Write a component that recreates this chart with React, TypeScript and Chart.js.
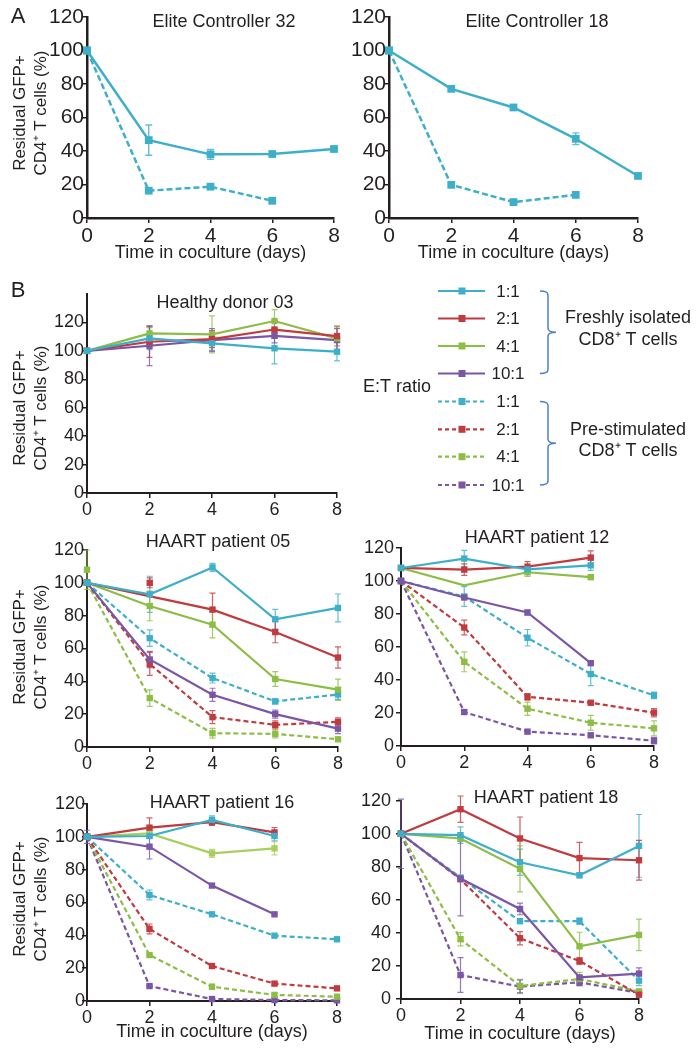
import React, { useEffect, useRef } from "react";
import { Chart, registerables } from "chart.js";

Chart.register(...registerables);

const FONT = "'Liberation Sans', Arial, Helvetica, sans-serif";
const INK = "#231f20";
const COLORS: Record<string, string> = {
  cyan: "#3dafc9",
  red: "#c03a3e",
  green: "#8cbd45",
  lime: "#a8cf5c",
  purple: "#7b55a6",
};
const BRACKET = "#4b82c3";

// ---------- shared categories / labels ----------
const days = [0, 2, 4, 6, 8];
const etRatios = ["1:1", "2:1", "4:1", "10:1"];
const yTitleLines = ["Residual GFP+", "CD4\u207A T cells (%)"];
const xTitleText = "Time in coculture (days)";

// ---------- Panel A: Elite Controller 32 ----------
const ec32Fresh11 = [100, 46.5, 38, 38.2, 41.2];
const ec32Fresh11Err = [0, 9, 3, 0, 0];
const ec32Stim11 = [100, 16.3, 18.7, 10.3, null];
const ec32Stim11Err = [0, 0, 0, 0, 0];

// ---------- Panel A: Elite Controller 18 ----------
const ec18Fresh11 = [100, 77.1, 66, 47.3, 25.1];
const ec18Fresh11Err = [0, 0, 0, 3.5, 0];
const ec18Stim11 = [100, 19.8, 9.5, 13.8, null];
const ec18Stim11Err = [0, 0, 0, 0, 0];

// ---------- Panel B: Healthy donor 03 ----------
const hd03Fresh11 = [100, 108.8, 105.3, 101.8, 99.4];
const hd03Fresh11Err = [0, 8, 5, 11, 6.5];
const hd03Fresh21 = [100, 106.4, 108.3, 115, 110.4];
const hd03Fresh21Err = [0, 11, 6, 6, 7];
const hd03Fresh41 = [100, 112.3, 111.6, 121, 108.8];
const hd03Fresh41Err = [0, 4, 13, 8, 8];
const hd03Fresh101 = [100, 103.6, 107.6, 110.6, 107.6];
const hd03Fresh101Err = [0, 14, 8, 5, 8];

// ---------- Panel B: HAART patient 05 ----------
const h05Fresh11 = [100, 93, 109.4, 77.8, 84.7];
const h05Fresh11Err = [0, 11, 2.5, 6, 8.5];
const h05Fresh21 = [100, null, 83.7, 70, 54.5];
const h05Fresh21Err = [0, 0, 10, 6.5, 6.5];
const h05Fresh21Extra = [null, 100, null, null, null];
const h05Fresh21ExtraErr = [0, 3, 0, 0, 0];
const h05Fresh41 = [100, 85.9, 74.5, 41.4, 34.9];
const h05Fresh41Err = [0, 9, 8, 4.5, 6.5];
const h05Fresh41Extra = [108, null, null, null, null];
const h05Fresh41ExtraErr = [12, 0, 0, 0, 0];
const h05Fresh101 = [100, 53.3, 31.8, 20, 11.2];
const h05Fresh101Err = [0, 5, 4, 2.5, 3];
const h05Stim11 = [100, 66.3, 42, 27.8, 32];
const h05Stim11Err = [0, 5, 3, 1.5, 3];
const h05Stim21 = [100, 50.6, 18.2, 13.5, 15.3];
const h05Stim21Err = [0, 7, 4, 2.5, 2.5];
const h05Stim41 = [100, 29.8, 8.4, 8, 4.7];
const h05Stim41Err = [0, 5, 3, 2.5, 1];

// ---------- Panel B: HAART patient 12 ----------
const h12Fresh11 = [107.9, 113.6, 107.1, 109.5, null];
const h12Fresh11Err = [0, 5, 1.5, 3, 0];
const h12Fresh21 = [107.9, 106.9, 108.7, 114.2, null];
const h12Fresh21Err = [0, 3.5, 3, 4, 0];
const h12Fresh41 = [107.9, 97.4, 105.3, 102.3, null];
const h12Fresh41Err = [0, 0, 2.5, 1, 0];
const h12Fresh101 = [100, 90, 80.9, 50.2, null];
const h12Fresh101Err = [0, 0, 1.5, 1, 0];
const h12Stim11 = [100, 90.6, 65.6, 43.6, 30.7];
const h12Stim11Err = [0, 6, 5, 7, 2];
const h12Stim21 = [100, 71.8, 29.8, 26.2, 20.2];
const h12Stim21Err = [0, 4.5, 2, 1, 2.5];
const h12Stim41 = [100, 51, 22.6, 14.1, 10.7];
const h12Stim41Err = [0, 6, 4, 4.5, 4.5];
const h12Stim101 = [100, 20.6, 8.7, 6.5, 3.2];
const h12Stim101Err = [0, 1, 1, 1, 2];

// ---------- Panel B: HAART patient 16 ----------
const h16Fresh11 = [100, 100.5, 110.3, 100.5, null];
const h16Fresh11Err = [0, 1.5, 2.5, 3, 0];
const h16Fresh21 = [100, 105.6, 109, 102.7, null];
const h16Fresh21Err = [0, 6, 2, 3, 0];
const h16Fresh41 = [100, 102.1, 89.9, 93, null];
const h16Fresh41Err = [0, 2, 2.5, 4, 0];
const h16Fresh101 = [100, 94, 70.3, 52.8, null];
const h16Fresh101Err = [4, 7.5, 0.5, 0.5, 0];
const h16Stim11 = [100, 64.6, 52.8, 39.8, 37.6];
const h16Stim11Err = [0, 3, 0.5, 0.5, 1];
const h16Stim21 = [100, 43.9, 21.3, 10.6, 7.7];
const h16Stim21Err = [0, 3, 0.5, 1, 0.5];
const h16Stim41 = [100, 28, 8.7, 3.7, 2.6];
const h16Stim41Err = [0, 0.5, 1.5, 1, 0.5];
const h16Stim101 = [100, 9.1, 1.2, 0.6, 0.4];
const h16Stim101Err = [0, 0.5, 0.5, 0.5, 0.5];

// ---------- Panel B: HAART patient 18 ----------
const h18Fresh11 = [100, 99.2, 82.8, 74.9, 92.7];
const h18Fresh11Err = [0, 5, 8, 1.5, 19];
const h18Fresh21 = [100, 114.9, 97.2, 85.3, 84];
const h18Fresh21Err = [0, 8, 13, 9.5, 12];
const h18Fresh41 = [100, 97.2, 78.8, 31.9, 38.8];
const h18Fresh41Err = [0, 0, 14, 8.5, 9.5];
const h18Fresh101 = [100, 72.9, 54.5, 13.1, 15.4];
const h18Fresh101Err = [21, 22.6, 3.5, 1, 3.5];
const h18Stim11 = [100, 73.5, 47.1, 47.1, 11.1];
const h18Stim11Err = [0, 0, 0, 2, 3];
const h18Stim21 = [100, 72.5, 36.8, 23, 2.6];
const h18Stim21Err = [0, 0, 4, 2, 1];
const h18Stim41 = [100, 36.2, 7.9, 12.1, 4.6];
const h18Stim41Err = [0, 4, 4, 4, 1];
const h18Stim101 = [100, 14.5, 7.5, 10.1, 3.7];
const h18Stim101Err = [0, 10.5, 4, 2, 1];

// ---------- types ----------
type Series = {
  values: (number | null)[];
  errors: number[];
  color: string;
  dashed: boolean;
  line?: boolean;
  hidePts?: number[];
};

const S = (
  values: (number | null)[],
  errors: number[],
  color: string,
  dashed: boolean,
  extra: Partial<Series> = {}
): Series => ({ values, errors, color, dashed, ...extra });

type Panel = {
  key: string;
  box: { left: number; top: number; width: number; height: number };
  pad: { top: number; right: number };
  yAxisW: number;
  xAxisH: number;
  yMax: number;
  tickSize: number;
  yTickPad: number;
  xTitle: boolean;
  lineW: number;
  axisW: number;
  ptR: number;
  dash: number[];
  title: { text: string; x: number; y: number };
  yTitle?: { x: number[]; y: number };
  letter?: { text: string; x: number; y: number };
  legend?: boolean;
  series: Series[];
};

const panels: Panel[] = [
  {
    key: "ec32",
    box: { left: 0, top: 5, width: 348, height: 259 },
    pad: { top: 12, right: 14 },
    yAxisW: 87,
    xAxisH: 46,
    yMax: 120,
    tickSize: 21,
    yTickPad: -2,
    xTitle: true,
    lineW: 2.5,
    axisW: 2.5,
    ptR: 5.5,
    dash: [6, 3],
    title: { text: "Elite Controller 32", x: 224, y: 22 },
    yTitle: { x: [20, 41.5], y: 113 },
    letter: { text: "A", x: 18, y: 17 },
    series: [
      S(ec32Fresh11, ec32Fresh11Err, COLORS.cyan, false),
      S(ec32Stim11, ec32Stim11Err, COLORS.cyan, true),
    ],
  },
  {
    key: "ec18",
    box: { left: 348, top: 5, width: 300, height: 259 },
    pad: { top: 12, right: 10 },
    yAxisW: 41,
    xAxisH: 46,
    yMax: 120,
    tickSize: 21,
    yTickPad: -2,
    xTitle: true,
    lineW: 2.5,
    axisW: 2.5,
    ptR: 5.5,
    dash: [6, 3],
    title: { text: "Elite Controller 18", x: 537, y: 22 },
    series: [
      S(ec18Fresh11, ec18Fresh11Err, COLORS.cyan, false),
      S(ec18Stim11, ec18Stim11Err, COLORS.cyan, true),
    ],
  },
  {
    key: "hd03",
    box: { left: 0, top: 278, width: 696, height: 245 },
    pad: { top: 16, right: 359 },
    yAxisW: 87,
    xAxisH: 30,
    yMax: 140,
    tickSize: 18,
    yTickPad: -2,
    xTitle: false,
    lineW: 2.2,
    axisW: 2,
    ptR: 4.5,
    dash: [5, 3],
    title: { text: "Healthy donor 03", x: 225, y: 303 },
    yTitle: { x: [20, 41.5], y: 408 },
    letter: { text: "B", x: 18, y: 291 },
    legend: true,
    series: [
      S(hd03Fresh11, hd03Fresh11Err, COLORS.cyan, false),
      S(hd03Fresh21, hd03Fresh21Err, COLORS.red, false),
      S(hd03Fresh41, hd03Fresh41Err, COLORS.green, false),
      S(hd03Fresh101, hd03Fresh101Err, COLORS.purple, false),
    ],
  },
  {
    key: "h05",
    box: { left: 0, top: 526, width: 348, height: 251 },
    pad: { top: 24, right: 10 },
    yAxisW: 87,
    xAxisH: 30,
    yMax: 120,
    tickSize: 18,
    yTickPad: -2,
    xTitle: false,
    lineW: 2.2,
    axisW: 2,
    ptR: 4.5,
    dash: [5, 3],
    title: { text: "HAART patient 05", x: 218, y: 542 },
    yTitle: { x: [20, 41.5], y: 647 },
    series: [
      S(h05Fresh11, h05Fresh11Err, COLORS.cyan, false),
      S(h05Fresh21, h05Fresh21Err, COLORS.red, false),
      S(h05Fresh21Extra, h05Fresh21ExtraErr, COLORS.red, false, { line: false }),
      S(h05Fresh41, h05Fresh41Err, COLORS.green, false),
      S(h05Fresh41Extra, h05Fresh41ExtraErr, COLORS.green, false, { line: false }),
      S(h05Fresh101, h05Fresh101Err, COLORS.purple, false),
      S(h05Stim11, h05Stim11Err, COLORS.cyan, true),
      S(h05Stim21, h05Stim21Err, COLORS.red, true),
      S(h05Stim41, h05Stim41Err, COLORS.green, true),
    ],
  },
  {
    key: "h12",
    box: { left: 348, top: 524, width: 318, height: 252 },
    pad: { top: 24, right: 12 },
    yAxisW: 53,
    xAxisH: 30,
    yMax: 120,
    tickSize: 18,
    yTickPad: 2,
    xTitle: false,
    lineW: 2.2,
    axisW: 2,
    ptR: 4.5,
    dash: [5, 3],
    title: { text: "HAART patient 12", x: 537, y: 538 },
    series: [
      S(h12Fresh11, h12Fresh11Err, COLORS.cyan, false),
      S(h12Fresh21, h12Fresh21Err, COLORS.red, false),
      S(h12Fresh41, h12Fresh41Err, COLORS.green, false, { hidePts: [1] }),
      S(h12Fresh101, h12Fresh101Err, COLORS.purple, false),
      S(h12Stim11, h12Stim11Err, COLORS.cyan, true),
      S(h12Stim21, h12Stim21Err, COLORS.red, true),
      S(h12Stim41, h12Stim41Err, COLORS.green, true),
      S(h12Stim101, h12Stim101Err, COLORS.purple, true),
    ],
  },
  {
    key: "h16",
    box: { left: 0, top: 792, width: 347, height: 251 },
    pad: { top: 12, right: 10 },
    yAxisW: 87,
    xAxisH: 42,
    yMax: 120,
    tickSize: 18,
    yTickPad: -3,
    xTitle: true,
    lineW: 2.2,
    axisW: 2,
    ptR: 4.5,
    dash: [5, 3],
    title: { text: "HAART patient 16", x: 222, y: 803 },
    yTitle: { x: [20, 41.5], y: 899 },
    series: [
      S(h16Fresh11, h16Fresh11Err, COLORS.cyan, false),
      S(h16Fresh21, h16Fresh21Err, COLORS.red, false),
      S(h16Fresh41, h16Fresh41Err, COLORS.lime, false),
      S(h16Fresh101, h16Fresh101Err, COLORS.purple, false),
      S(h16Stim11, h16Stim11Err, COLORS.cyan, true),
      S(h16Stim21, h16Stim21Err, COLORS.red, true),
      S(h16Stim41, h16Stim41Err, COLORS.green, true),
      S(h16Stim101, h16Stim101Err, COLORS.purple, true),
    ],
  },
  {
    key: "h18",
    box: { left: 348, top: 785, width: 303, height: 260 },
    pad: { top: 12, right: 12 },
    yAxisW: 53,
    xAxisH: 46,
    yMax: 120,
    tickSize: 18,
    yTickPad: 5,
    xTitle: true,
    lineW: 2.2,
    axisW: 2,
    ptR: 4.5,
    dash: [5, 3],
    title: { text: "HAART patient 18", x: 546, y: 798 },
    series: [
      S(h18Fresh11, h18Fresh11Err, COLORS.cyan, false),
      S(h18Fresh21, h18Fresh21Err, COLORS.red, false),
      S(h18Fresh41, h18Fresh41Err, COLORS.green, false),
      S(h18Fresh101, h18Fresh101Err, COLORS.purple, false),
      S(h18Stim11, h18Stim11Err, COLORS.cyan, true),
      S(h18Stim21, h18Stim21Err, COLORS.red, true),
      S(h18Stim41, h18Stim41Err, COLORS.green, true),
      S(h18Stim101, h18Stim101Err, COLORS.purple, true),
    ],
  },
];

// ---------- plugins ----------
const errorBarsPlugin = (capHalf: number, width: number) => ({
  id: "errorBars",
  beforeDatasetsDraw(chart: any) {
    const { ctx } = chart;
    const xs = chart.scales.x;
    const ys = chart.scales.y;
    chart.data.datasets.forEach((ds: any) => {
      const errs: number[] | undefined = ds.errors;
      if (!errs) return;
      ds.data.forEach((p: any, j: number) => {
        const e = errs[j];
        if (!e || p.y == null) return;
        const x = xs.getPixelForValue(p.x);
        const y1 = ys.getPixelForValue(p.y + e);
        const y2 = ys.getPixelForValue(p.y - e);
        ctx.save();
        ctx.strokeStyle = ds.borderColor;
        ctx.globalAlpha = 0.8;
        ctx.lineWidth = width;
        ctx.setLineDash([]);
        ctx.beginPath();
        ctx.moveTo(x, y1);
        ctx.lineTo(x, y2);
        ctx.moveTo(x - capHalf, y1);
        ctx.lineTo(x + capHalf, y1);
        ctx.moveTo(x - capHalf, y2);
        ctx.lineTo(x + capHalf, y2);
        ctx.stroke();
        ctx.restore();
      });
    });
  },
});

// legend layout (page coordinates)
const legendRowsY = [291, 318.5, 346, 373.5, 401.5, 429.3, 456.7, 485];
const legendColors = [COLORS.cyan, COLORS.red, COLORS.green, COLORS.purple];

function drawLegend(ctx: CanvasRenderingContext2D, ox: number, oy: number) {
  const x1 = 438 - ox;
  const x2 = 485 - ox;
  const mx = 462 - ox;
  for (let i = 0; i < 8; i++) {
    const y = legendRowsY[i] - oy;
    const color = legendColors[i % 4];
    const dashed = i >= 4;
    ctx.save();
    ctx.strokeStyle = color;
    ctx.fillStyle = color;
    ctx.lineWidth = 2.2;
    ctx.setLineDash(dashed ? [4, 3] : []);
    ctx.beginPath();
    ctx.moveTo(x1, y);
    ctx.lineTo(x2, y);
    ctx.stroke();
    ctx.setLineDash([]);
    ctx.fillRect(mx - 3.5, y - 3.5, 7, 7);
    ctx.fillStyle = INK;
    ctx.font = `17px ${FONT}`;
    ctx.textAlign = "center";
    ctx.textBaseline = "middle";
    ctx.fillText(etRatios[i % 4], 508 - ox, y + 1);
    ctx.restore();
  }
  ctx.save();
  ctx.fillStyle = INK;
  ctx.textBaseline = "middle";
  ctx.textAlign = "center";
  ctx.font = `18px ${FONT}`;
  ctx.fillText("E:T ratio", 397 - ox, 387 - oy);
  ctx.fillText("Freshly isolated", 628 - ox, 318.5 - oy);
  ctx.fillText("CD8\u207A T cells", 628 - ox, 340.5 - oy);
  ctx.fillText("Pre-stimulated", 628 - ox, 430 - oy);
  ctx.fillText("CD8\u207A T cells", 628 - ox, 451.5 - oy);
  // brackets
  ctx.strokeStyle = BRACKET;
  ctx.lineWidth = 1.5;
  const bracket = (top: number, bottom: number) => {
    const bx = 548 - ox;
    const t = top - oy;
    const b = bottom - oy;
    const m = (t + b) / 2;
    ctx.beginPath();
    ctx.moveTo(bx - 8, t);
    ctx.quadraticCurveTo(bx, t, bx, t + 4);
    ctx.lineTo(bx, m - 4);
    ctx.quadraticCurveTo(bx, m, bx + 8, m);
    ctx.quadraticCurveTo(bx, m, bx, m + 4);
    ctx.lineTo(bx, b - 4);
    ctx.quadraticCurveTo(bx, b, bx - 8, b);
    ctx.stroke();
  };
  bracket(291, 373.5);
  bracket(401.5, 485);
  ctx.restore();
}

const decorPlugin = (p: Panel) => ({
  id: "decor",
  afterDraw(chart: any) {
    const ctx: CanvasRenderingContext2D = chart.ctx;
    const ox = p.box.left;
    const oy = p.box.top;
    ctx.save();
    ctx.fillStyle = INK;
    ctx.textBaseline = "middle";
    ctx.textAlign = "center";
    ctx.font = `18px ${FONT}`;
    ctx.fillText(p.title.text, p.title.x - ox, p.title.y - oy);
    if (p.letter) {
      ctx.font = `22px ${FONT}`;
      ctx.fillText(p.letter.text, p.letter.x - ox, p.letter.y - oy);
    }
    if (p.yTitle) {
      ctx.font = `17px ${FONT}`;
      yTitleLines.forEach((t, i) => {
        ctx.save();
        ctx.translate(p.yTitle!.x[i] - ox, p.yTitle!.y - oy);
        ctx.rotate(-Math.PI / 2);
        ctx.fillText(t, 0, 0);
        ctx.restore();
      });
    }
    ctx.restore();
    if (p.legend) drawLegend(ctx, ox, oy);
  },
});

function buildConfig(p: Panel): any {
  const datasets = p.series.map((s) => ({
    data: days.map((d, i) => ({ x: d, y: s.values[i] })),
    errors: s.errors,
    borderColor: s.color,
    backgroundColor: s.color,
    pointBackgroundColor: s.color,
    borderWidth: p.lineW,
    borderDash: s.dashed ? p.dash : [],
    showLine: s.line !== false,
    spanGaps: true,
    tension: 0,
    clip: false,
    pointStyle: "rect",
    pointRadius: days.map((_, i) => (s.hidePts && s.hidePts.includes(i) ? 0 : p.ptR)),
    pointBorderWidth: 0,
  }));

  const tickFont = { size: p.tickSize, family: FONT };
  const gridCfg = {
    display: true,
    drawOnChartArea: false,
    drawTicks: true,
    tickLength: 5,
    color: INK,
    lineWidth: 1.5,
  };

  return {
    type: "line",
    data: { datasets },
    options: {
      animation: false,
      responsive: false,
      maintainAspectRatio: false,
      devicePixelRatio: 1,
      events: [],
      layout: { padding: { top: p.pad.top, right: p.pad.right, left: 0, bottom: 0 } },
      plugins: {
        legend: { display: false },
        tooltip: { enabled: false },
        title: { display: false },
      },
      scales: {
        x: {
          type: "linear",
          min: 0,
          max: 8,
          ticks: { stepSize: 2, font: tickFont, color: INK, padding: 1, maxRotation: 0 },
          grid: gridCfg,
          border: { display: true, color: INK, width: p.axisW },
          title: {
            display: p.xTitle,
            text: xTitleText,
            font: { size: 18, family: FONT },
            color: INK,
            padding: { top: 0, bottom: 0 },
          },
          afterFit: (scale: any) => {
            scale.height = p.xAxisH;
          },
        },
        y: {
          type: "linear",
          min: 0,
          max: p.yMax,
          ticks: { stepSize: 20, font: tickFont, color: INK, padding: p.yTickPad },
          grid: gridCfg,
          border: { display: true, color: INK, width: p.axisW },
          afterBuildTicks: (scale: any) => {
            scale.ticks = scale.ticks.filter((t: any) => t.value <= 120);
          },
          afterFit: (scale: any) => {
            scale.width = p.yAxisW;
          },
        },
      },
    },
    plugins: [errorBarsPlugin(p.key.startsWith("ec") ? 3.5 : 3, p.key.startsWith("ec") ? 1.4 : 1.2), decorPlugin(p)],
  };
}

function ChartPanel({ panel }: { panel: Panel }) {
  const ref = useRef<HTMLCanvasElement>(null);
  useEffect(() => {
    if (!ref.current) return;
    const chart = new Chart(ref.current, buildConfig(panel));
    return () => chart.destroy();
  }, [panel]);
  const { left, top, width, height } = panel.box;
  return (
    <canvas
      ref={ref}
      width={width}
      height={height}
      style={{ position: "absolute", left, top, width, height }}
    />
  );
}

export default function App() {
  return (
    <div
      style={{
        position: "absolute",
        left: 0,
        top: 0,
        width: 696,
        height: 1050,
        background: "#ffffff",
        overflow: "hidden",
      }}
    >
      {panels.map((p) => (
        <ChartPanel key={p.key} panel={p} />
      ))}
    </div>
  );
}
